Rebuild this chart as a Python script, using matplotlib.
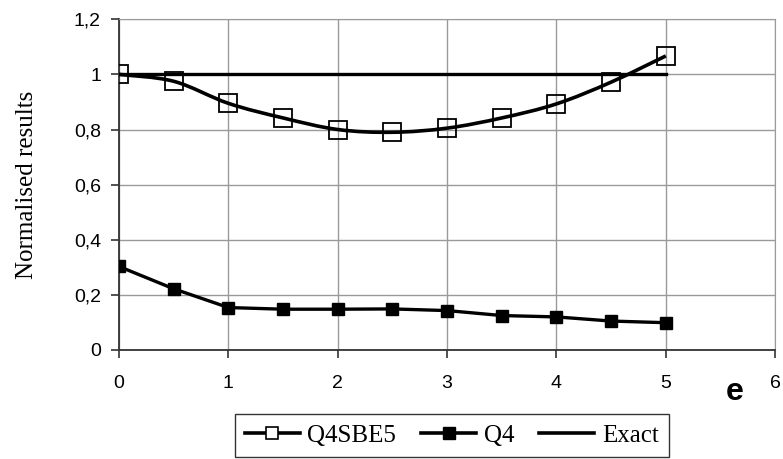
import numpy as np
import matplotlib.pyplot as plt
from matplotlib.path import Path
from matplotlib.patches import PathPatch
from matplotlib.lines import Line2D

# data
e_vals = [0, 0.5, 1, 1.5, 2, 2.5, 3, 3.5, 4, 4.5, 5]
q4sbe5 = [1.0, 0.975, 0.895, 0.842, 0.80, 0.79, 0.805, 0.842, 0.893, 0.972, 1.067]
q4 = [0.303, 0.222, 0.154, 0.148, 0.148, 0.149, 0.143, 0.125, 0.12, 0.105, 0.099]
exact_x = [0, 5]
exact_y = [1, 1]

y_ticks = [0, 0.2, 0.4, 0.6, 0.8, 1.0, 1.2]
y_labels = ["0", "0,2", "0,4", "0,6", "0,8", "1", "1,2"]
x_ticks = [0, 1, 2, 3, 4, 5, 6]


def smooth_path(x, y):
    # Excel-style smoothed line: cubic bezier through the points
    pts = np.column_stack([x, y])
    n = len(pts)
    verts = [pts[0]]
    codes = [Path.MOVETO]
    for i in range(n - 1):
        p0 = pts[i - 1] if i > 0 else pts[i]
        p1 = pts[i]
        p2 = pts[i + 1]
        p3 = pts[i + 2] if i + 2 < n else pts[i + 1]
        c1 = p1 + (p2 - p0) / 6.0
        c2 = p2 - (p3 - p1) / 6.0
        verts += [c1, c2, p2]
        codes += [Path.CURVE4] * 3
    return Path(verts, codes)


fig = plt.figure(figsize=(7.83, 4.59), dpi=100)
ax = fig.add_axes([0.152, 0.2375, 0.838, 0.7205])

ax.set_xlim(0, 6)
ax.set_ylim(0, 1.2)

ax.grid(True, color="#9a9a9a", linewidth=1.0)
ax.set_axisbelow(True)

# Q4SBE5 smoothed line + hollow squares
ax.add_patch(PathPatch(smooth_path(e_vals, q4sbe5), facecolor="none",
                       edgecolor="black", linewidth=2.6, zorder=3))
ax.plot(e_vals, q4sbe5, linestyle="none", marker="s", markersize=13,
        markerfacecolor="none", markeredgecolor="black",
        markeredgewidth=1.3, zorder=4)

# Q4 straight line with filled squares
ax.plot(e_vals, q4, color="black", linewidth=2.4, marker="s",
        markersize=8.5, zorder=3)

# exact
ax.plot(exact_x, exact_y, color="black", linewidth=2.4, zorder=3)

ax.set_yticks(y_ticks)
ax.set_yticklabels(y_labels)
ax.set_xticks(x_ticks)

for s in ["top", "right"]:
    ax.spines[s].set_color("#9a9a9a")
for s in ["left", "bottom"]:
    ax.spines[s].set_color("#333333")
    ax.spines[s].set_linewidth(1.3)

ax.tick_params(axis="both", direction="out", length=6, width=1.2,
               color="#333333", labelsize=14,
               labelfontfamily="Liberation Sans")
ax.tick_params(axis="x", pad=12)
ax.tick_params(axis="y", pad=7)

ax.set_ylabel("Normalised results", family="Liberation Serif", fontsize=18,
              labelpad=26)
fig.text(735 / 783, 1 - 392 / 459, "e", family="Liberation Sans",
         fontweight="bold", fontsize=23, ha="center", va="center")

handles = [
    Line2D([], [], color="black", linewidth=2.6, marker="s", markersize=8,
           markerfacecolor="white", markeredgecolor="black",
           markeredgewidth=1.2),
    Line2D([], [], color="black", linewidth=2.6, marker="s", markersize=8),
    Line2D([], [], color="black", linewidth=2.6),
]
leg = fig.legend(handles, ["Q4SBE5", "Q4", "Exact"], ncol=3,
                 loc="upper center", bbox_to_anchor=(0.577, 0.098),
                 prop={"family": "Liberation Serif", "size": 18},
                 frameon=True, fancybox=False, handlelength=2.2,
                 handletextpad=0.3, columnspacing=1.0, borderpad=0.4,
                 borderaxespad=0)
leg.get_frame().set_edgecolor("black")
leg.get_frame().set_linewidth(1.0)

plt.savefig("out.png", dpi=100)
